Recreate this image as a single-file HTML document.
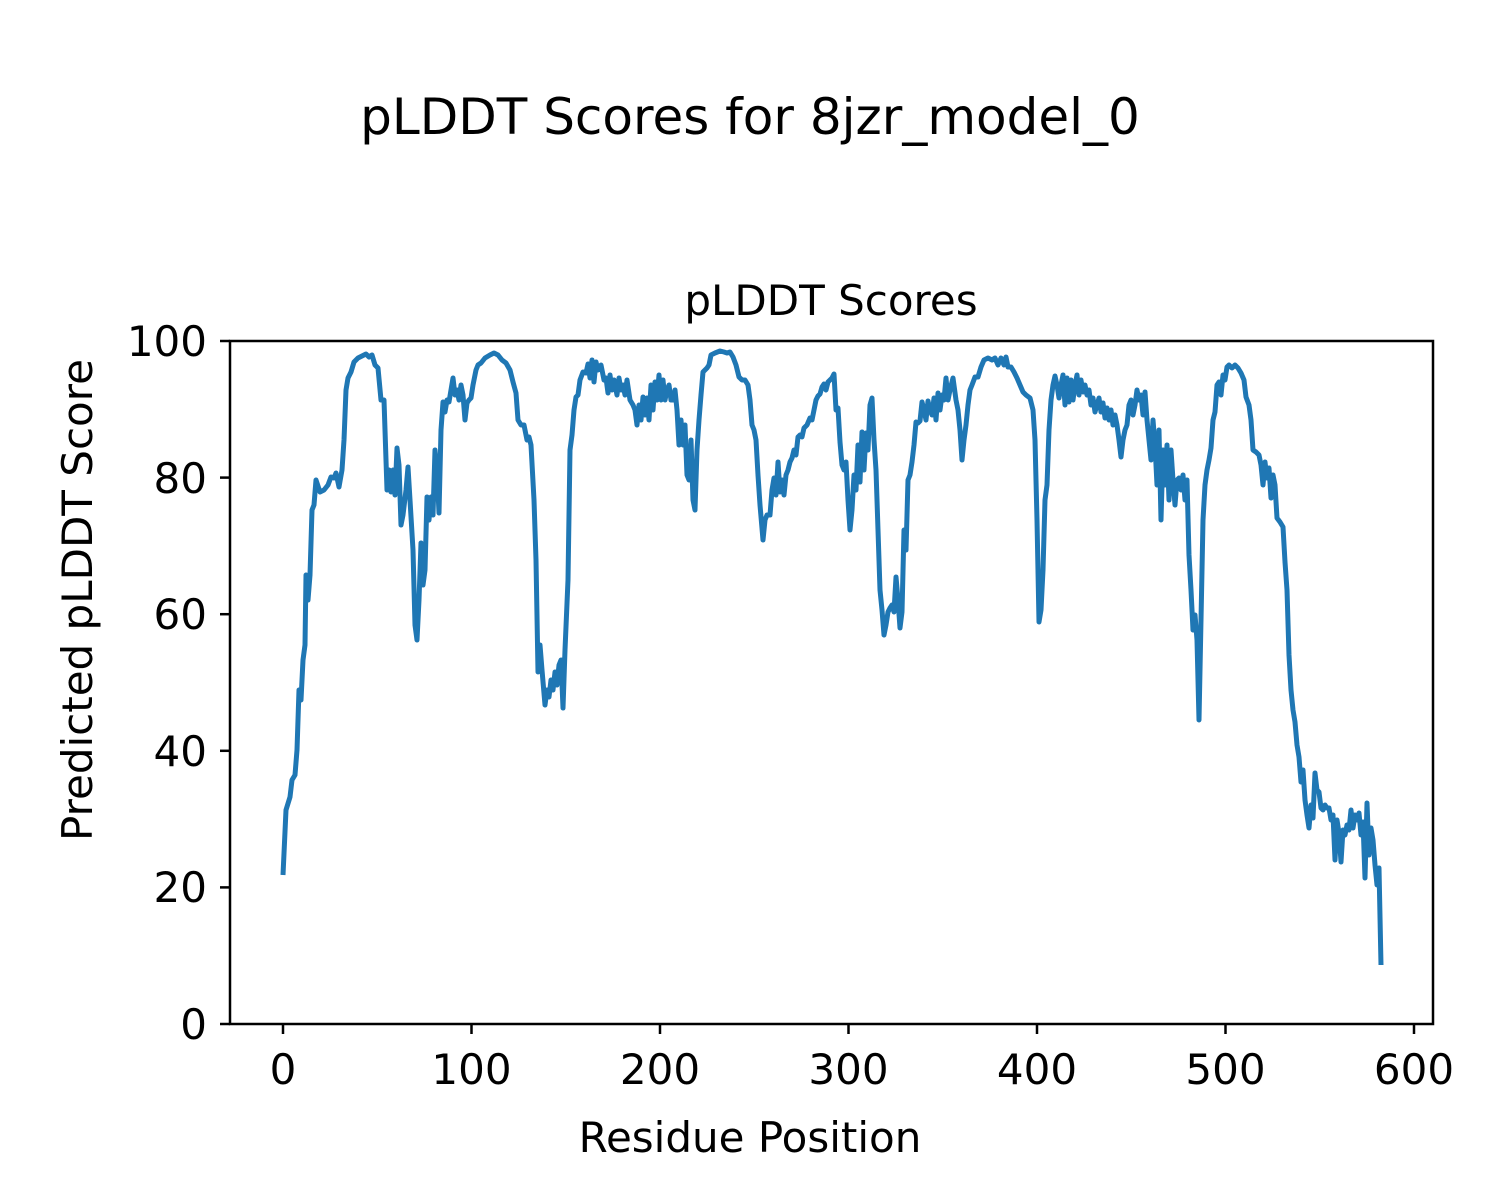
<!DOCTYPE html>
<html><head><meta charset="utf-8"><style>html,body{margin:0;padding:0;background:#fff}svg{display:block}text{font-family:"DejaVu Sans","Liberation Sans",sans-serif;fill:#000}</style></head>
<body>
<svg width="1500" height="1200" viewBox="0 0 1500 1200" xmlns="http://www.w3.org/2000/svg">
<rect width="1500" height="1200" fill="#fff"/>
<text x="750" y="134" font-size="50" text-anchor="middle">pLDDT Scores for 8jzr_model_0</text>
<text x="831" y="315" font-size="42" text-anchor="middle">pLDDT Scores</text>
<polyline fill="none" stroke="#1f77b4" stroke-width="5" stroke-linejoin="round" points="283,875 286,810 290,797 292,780 295,775 297,750 299,690 301,700 303,660 305,645 306,575 308,600 310,575 312,510 314,505 316,480 320,492 324,490 328,485 331,477 334,478 336,473 339,487 342,470 344,440 346,390 348,378 351,372 354,362 358,358 362,356 366,354 369,357 372,355 375,365 378,368 381,400 384,400 387,490 389,470 391,492 393,470 395,495 397,448 399,465 401,525 403,515 406,490 408,467 410,500 413,550 415,625 417,640 419,600 421,543 423,585 425,570 427,497 429,520 431,497 433,515 435,450 437,470 439,513 441,430 443,402 445,412 447,400 449,402 451,390 453,378 455,395 457,390 459,400 461,385 463,395 465,420 467,403 469,400 471,398 473,385 476,370 478,365 481,363 485,358 490,355 494,353 498,355 502,360 506,363 510,370 513,382 516,393 518,420 521,425 524,425 527,440 529,437 531,445 534,500 536,560 538,672 540,645 542,670 545,705 547,690 549,697 551,680 553,690 555,672 557,685 559,665 561,660 563,708 565,650 568,580 570,450 572,435 574,410 576,397 578,395 580,380 583,372 586,373 588,364 590,378 592,360 594,382 596,362 598,370 601,365 604,380 606,378 608,393 610,375 612,390 614,380 617,395 619,378 621,390 623,385 625,395 627,380 630,400 633,405 635,410 637,425 639,405 641,420 643,397 645,415 647,398 649,420 651,385 653,410 655,382 657,400 659,375 661,400 663,380 665,400 667,390 669,385 671,400 673,400 675,390 677,410 679,445 681,420 683,445 685,425 687,475 689,480 691,440 693,500 695,510 697,450 699,420 701,395 703,372 705,370 707,368 709,365 711,355 715,353 720,351 724,352 727,353 730,352 733,357 736,365 739,377 742,380 745,380 748,385 750,400 752,425 754,430 756,440 758,475 760,505 763,540 765,520 767,515 770,515 772,490 774,478 776,495 778,462 780,492 782,480 784,495 786,475 788,470 790,462 792,458 794,450 796,455 798,437 800,435 802,437 804,428 807,425 810,418 812,420 814,410 816,400 818,396 820,394 822,387 824,384 826,390 828,382 830,380 832,378 834,374 836,410 838,408 840,442 842,465 844,470 846,462 848,500 850,530 852,510 854,475 856,490 858,445 860,482 862,432 864,470 866,433 868,450 870,405 872,398 874,440 876,470 878,530 880,590 882,610 884,635 886,625 888,612 890,608 892,605 894,612 896,577 898,600 900,628 902,612 904,530 906,550 908,480 910,475 912,462 914,445 916,422 918,423 920,421 922,402 924,410 926,420 928,401 930,410 932,415 934,398 936,420 938,393 940,410 942,395 944,400 946,378 948,400 950,390 953,378 956,400 958,410 960,430 962,460 964,440 966,425 968,405 970,390 972,385 975,377 978,377 981,367 984,360 988,358 992,360 995,358 998,365 1001,358 1004,365 1006,357 1008,367 1011,367 1014,372 1017,378 1020,385 1023,392 1026,395 1030,398 1033,410 1035,440 1037,520 1039,622 1041,610 1043,570 1045,500 1047,485 1049,430 1051,400 1053,385 1055,376 1057,385 1059,398 1061,385 1063,375 1065,405 1067,378 1069,402 1071,380 1073,400 1075,385 1077,375 1079,395 1081,380 1083,392 1085,385 1087,395 1089,390 1091,405 1093,398 1095,412 1097,405 1099,398 1101,412 1103,403 1105,418 1107,408 1109,420 1111,410 1113,425 1115,415 1117,425 1119,440 1121,457 1123,440 1125,430 1127,425 1129,405 1131,400 1133,415 1135,405 1137,390 1139,400 1141,395 1143,415 1145,392 1147,420 1149,440 1151,460 1153,420 1155,445 1157,485 1159,430 1161,520 1163,450 1165,485 1167,445 1169,500 1171,450 1173,480 1175,505 1177,480 1179,478 1181,490 1183,475 1185,500 1187,480 1189,555 1191,590 1193,630 1195,615 1197,640 1199,720 1201,620 1203,520 1205,485 1207,470 1209,460 1211,448 1213,420 1215,412 1217,385 1219,382 1221,395 1223,375 1225,380 1227,367 1229,365 1232,368 1235,365 1238,368 1241,373 1244,380 1246,397 1249,405 1251,420 1253,450 1256,452 1259,455 1261,465 1263,485 1265,462 1267,478 1269,468 1271,498 1273,475 1275,485 1277,518 1280,522 1283,527 1285,562 1287,590 1289,655 1291,690 1293,710 1295,722 1297,745 1299,757 1301,782 1303,770 1305,800 1307,815 1309,828 1311,805 1313,818 1315,773 1317,790 1319,792 1321,808 1323,810 1325,805 1327,808 1329,808 1331,820 1333,815 1335,860 1337,820 1339,833 1341,862 1343,830 1345,835 1347,825 1349,830 1351,810 1353,828 1355,815 1357,820 1359,813 1361,835 1363,822 1365,878 1367,803 1369,855 1371,828 1373,840 1375,865 1377,885 1379,868 1381,965"/>
<rect x="230" y="341" width="1203" height="683" fill="none" stroke="#000" stroke-width="2.5"/>
<g stroke="#000" stroke-width="2.5">
<line x1="283" y1="1024" x2="283" y2="1034"/><line x1="471.5" y1="1024" x2="471.5" y2="1034"/><line x1="660" y1="1024" x2="660" y2="1034"/><line x1="848.5" y1="1024" x2="848.5" y2="1034"/><line x1="1037" y1="1024" x2="1037" y2="1034"/><line x1="1225.5" y1="1024" x2="1225.5" y2="1034"/><line x1="1414" y1="1024" x2="1414" y2="1034"/>
<line x1="220" y1="1024" x2="230" y2="1024"/><line x1="220" y1="887.4" x2="230" y2="887.4"/><line x1="220" y1="750.8" x2="230" y2="750.8"/><line x1="220" y1="614.2" x2="230" y2="614.2"/><line x1="220" y1="477.6" x2="230" y2="477.6"/><line x1="220" y1="341" x2="230" y2="341"/>
</g>
<g font-size="42" text-anchor="middle">
<text x="283" y="1084">0</text><text x="471.5" y="1084">100</text><text x="660" y="1084">200</text><text x="848.5" y="1084">300</text><text x="1037" y="1084">400</text><text x="1225.5" y="1084">500</text><text x="1414" y="1084">600</text>
</g>
<g font-size="42" text-anchor="end">
<text x="207" y="1039">0</text><text x="207" y="902">20</text><text x="207" y="766">40</text><text x="207" y="629">60</text><text x="207" y="493">80</text><text x="207" y="356">100</text>
</g>
<text x="750" y="1152" font-size="42" text-anchor="middle">Residue Position</text>
<text transform="translate(92,600) rotate(-90)" font-size="42" text-anchor="middle">Predicted pLDDT Score</text>
</svg>
</body></html>
